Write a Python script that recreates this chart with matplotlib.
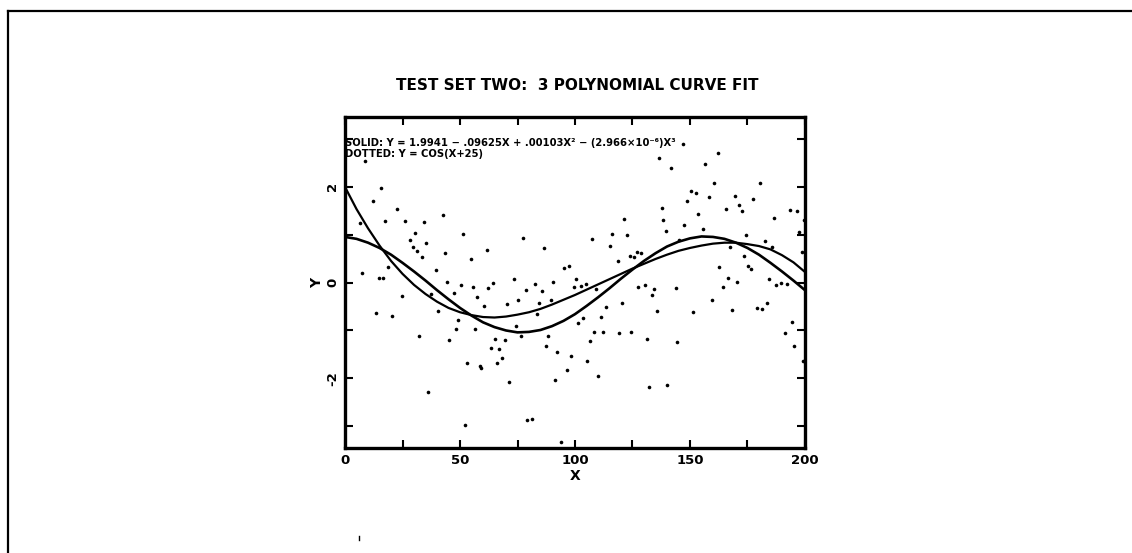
import numpy as np
import matplotlib
matplotlib.use('Agg')
import matplotlib.pyplot as plt
from matplotlib.lines import Line2D

# fitted curves, every 5 units of X
xc = np.arange(0, 205, 5)
solid = [1.99, 1.53, 1.13, 0.77, 0.45, 0.18, -0.05, -0.24, -0.40, -0.53, -0.62,
         -0.68, -0.72, -0.73, -0.71, -0.67, -0.62, -0.55, -0.46, -0.36, -0.26,
         -0.15, -0.04, 0.07, 0.18, 0.29, 0.39, 0.49, 0.58, 0.66, 0.72,
         0.77, 0.81, 0.83, 0.83, 0.80, 0.76, 0.69, 0.57, 0.42, 0.22]
dotted = [0.95, 0.91, 0.83, 0.72, 0.58, 0.41, 0.23, 0.04, -0.16, -0.35, -0.53,
          -0.69, -0.83, -0.93, -1.00, -1.04, -1.03, -0.99, -0.91, -0.80, -0.66,
          -0.49, -0.31, -0.12, 0.08, 0.27, 0.45, 0.61, 0.75, 0.85, 0.92,
          0.96, 0.95, 0.91, 0.83, 0.72, 0.58, 0.41, 0.23, 0.04, -0.16]

# scattered data points
px = [8.7, 15.5, 12.3, 22.5, 17.4, 26.2, 34.5, 42.5, 6.5, 30.3, 51.4, 28.3, 35.2,
      29.4, 31.4, 33.3, 43.6, 61.6, 54.8, 18.8, 39.4, 7.2, 14.9, 16.4,
      44.2, 50.4, 55.5, 62.3, 64.5, 24.6, 47.5, 37.2, 57.2, 40.6, 13.3, 20.6,
      60.6, 49.0, 48.3, 56.4, 32.2, 45.2, 65.2, 63.3, 67.1, 53.2, 58.7, 59.3,
      66.2, 36.1, 52.3,
      73.6, 82.6, 90.6, 100.4, 99.6, 102.6, 104.6, 78.6, 85.5, 75.4, 84.5, 89.4,
      70.6, 109.0, 127.2, 130.4, 133.6, 120.3, 113.5, 83.3, 103.3, 111.3, 101.4,
      74.3, 69.6, 76.5, 88.4, 108.3, 112.3, 119.3, 124.2, 131.2, 106.5, 87.2,
      92.3, 98.3, 68.4, 105.2, 96.4, 110.0, 91.2, 71.3, 132.3, 79.3, 81.2, 93.9,
      134.5, 143.8, 166.7, 170.6, 164.2, 184.5, 187.4, 189.4, 192.3, 135.5,
      151.4, 159.4, 168.4, 179.3, 181.3, 183.3, 194.3, 191.2, 195.2, 144.5,
      140.1, 199.3,
      121.4, 77.3, 107.2, 116.2, 122.5, 86.7, 115.2, 118.6, 95.4, 97.4, 123.9,
      125.8, 126.8, 128.7,
      147.0, 162.0, 136.7, 141.7, 156.5, 160.6, 180.4, 150.4, 152.6, 158.4,
      169.6, 148.6, 177.5, 171.4, 172.5, 137.7, 165.7, 193.5, 196.4, 153.6,
      138.4, 186.5, 147.5, 139.6, 155.5, 199.5, 174.3, 197.5, 145.3, 182.6,
      167.4, 185.5, 173.5, 198.6, 162.6, 175.4, 176.4]
py = [2.54, 1.98, 1.69, 1.53, 1.28, 1.28, 1.26, 1.41, 1.25, 1.04, 1.02, 0.88, 0.82,
      0.73, 0.66, 0.54, 0.62, 0.68, 0.49, 0.33, 0.26, 0.19, 0.09, 0.09,
      0.01, -0.06, -0.10, -0.12, -0.02, -0.29, -0.22, -0.24, -0.31, -0.60, -0.64,
      -0.69, -0.49, -0.78, -0.96, -0.96, -1.12, -1.20, -1.17, -1.37, -1.39,
      -1.67, -1.74, -1.78, -1.67, -2.29, -2.97,
      0.07, -0.03, 0.02, 0.08, -0.10, -0.08, -0.03, -0.16, -0.17, -0.37, -0.42,
      -0.36, -0.45, -0.14, -0.10, -0.05, -0.26, -0.42, -0.51, -0.65, -0.74,
      -0.72, -0.85, -0.90, -1.20, -1.11, -1.12, -1.04, -1.04, -1.06, -1.04,
      -1.17, -1.23, -1.33, -1.44, -1.54, -1.58, -1.63, -1.83, -1.94, -2.03,
      -2.07, -2.17, -2.86, -2.85, -3.32,
      -0.14, -0.12, 0.09, 0.02, -0.09, 0.07, -0.05, -0.02, -0.03, -0.59, -0.62,
      -0.37, -0.57, -0.54, -0.56, -0.42, -0.82, -1.05, -1.32, -1.24, -2.14,
      -1.63,
      1.32, 0.93, 0.91, 1.02, 0.99, 0.72, 0.77, 0.44, 0.31, 0.35, 0.56, 0.54,
      0.63, 0.61,
      2.88, 2.69, 2.59, 2.38, 2.47, 2.07, 2.07, 1.90, 1.86, 1.79, 1.81, 1.69,
      1.74, 1.62, 1.49, 1.56, 1.54, 1.51, 1.49, 1.42, 1.31, 1.34, 1.19, 1.08,
      1.11, 1.31, 0.99, 1.05, 0.89, 0.87, 0.75, 0.75, 0.56, 0.63, 0.32, 0.35,
      0.28]

xticks = np.arange(0, 225, 25)
xlabels = ['0', '', '50', '', '100', '', '150', '', '200']
yticks = np.arange(-3, 4, 1)
ylabels = ['', '-2', '', '0', '', '2', '']

fig = plt.figure(figsize=(11.32, 5.53), dpi=100)
ax = fig.add_axes([0.3048, 0.1899, 0.4063, 0.5985])

ax.plot(px, py, 'o', color='black', ms=2.6, mew=0)
ax.plot(xc, solid, color='black', linewidth=1.6)
ax.plot(xc, dotted, color='black', linewidth=1.9)

ax.set_xlim(0, 200)
ax.set_ylim(-3.45, 3.45)
ax.set_xticks(xticks)
ax.set_xticklabels(xlabels, fontsize=9.5, fontweight='bold')
ax.set_yticks(yticks)
ax.set_yticklabels(ylabels, fontsize=9.5, fontweight='bold', rotation=90, va='center')
ax.tick_params(direction='in', length=6, width=1.5, top=True, right=True, pad=4)
for s in ax.spines.values():
    s.set_linewidth(2.4)

ax.set_xlabel('X', fontsize=10, fontweight='bold', labelpad=2)
ax.set_ylabel('Y', fontsize=10, fontweight='bold', labelpad=2)

ax.text(0.001, 0.92, 'SOLID: Y = 1.9941 \u2212 .09625X + .00103X\u00b2 \u2212 (2.966\u00d710\u207b\u2076)X\u00b3',
        transform=ax.transAxes, fontsize=7.2, fontweight='bold', va='center', ha='left')
ax.text(0.001, 0.889, 'DOTTED: Y = COS(X+25)',
        transform=ax.transAxes, fontsize=7.2, fontweight='bold', va='center', ha='left')

fig.text(0.51, 0.846, 'TEST SET TWO:  3 POLYNOMIAL CURVE FIT', ha='center', va='center',
         fontsize=11, fontweight='bold',
         family=['Liberation Sans Narrow', 'DejaVu Sans Condensed', 'DejaVu Sans'])

# page border from the scan
fig.add_artist(Line2D([0.0075, 1.0], [0.980, 0.980], color='black', linewidth=1.6))
fig.add_artist(Line2D([0.0075, 0.0075], [0.0, 0.980], color='black', linewidth=1.6))
fig.add_artist(Line2D([0.317, 0.317], [0.024, 0.030], color='black', linewidth=1.0))

fig.savefig('out.png', dpi=100)
